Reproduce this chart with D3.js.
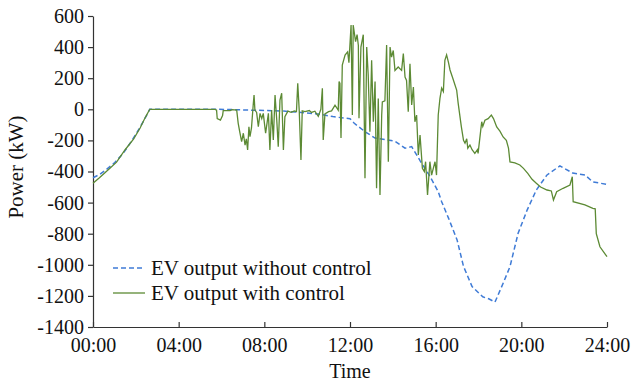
<!DOCTYPE html>
<html>
<head>
<meta charset="utf-8">
<script src="https://cdn.jsdelivr.net/npm/d3@7"></script>
<style>
  html, body { margin: 0; padding: 0; background: #fff; }
  svg text { font-family: "Liberation Serif", "Times New Roman", serif; fill: #111; }
</style>
</head>
<body>
<svg id="chart" width="633" height="385"></svg>
<script>
// ---- data (hours, kW) ----
const xTickValues = [0, 4, 8, 12, 16, 20, 24];
const xTickLabels = ["00:00", "04:00", "08:00", "12:00", "16:00", "20:00", "24:00"];
const yTickValues = [600, 400, 200, 0, -200, -400, -600, -800, -1000, -1200, -1400];
const seriesNames = ["EV output without control", "EV output with control"];

const withoutControl = [
  [0, -440], [0.3, -420], [0.6, -390], [1.0, -345], [1.4, -285], [1.8, -205], [2.2, -115],
  [2.5, -40], [2.65, 0], [5.7, 0], [6.5, -2], [8.9, -11], [10.5, -30], [11.2, -47],
  [11.7, -56], [12.0, -60], [12.2, -90], [12.7, -144], [13.17, -185], [13.63, -195],
  [14.1, -205], [14.57, -250], [14.88, -240], [15.27, -330], [15.73, -430], [16.12, -530],
  [16.28, -594], [16.6, -700], [17.0, -840], [17.3, -1010], [17.7, -1140], [18.2, -1206],
  [18.5, -1220], [18.77, -1240], [19.15, -1119], [19.47, -1012], [19.85, -797], [20.27, -648],
  [20.7, -519], [21.2, -422], [21.8, -364], [22.4, -410], [22.97, -422], [23.34, -467], [24, -483]
];

const withControl = [
  [0, -475], [0.3, -440], [0.7, -390], [1.1, -340], [1.5, -260], [1.9, -190], [2.2, -120],
  [2.45, -50], [2.65, 0], [5.7, 0], [5.77, -5], [5.8, -60], [5.95, -69], [6.05, -40],
  [6.08, -9], [6.4, -9], [6.5, -2], [6.71, -5], [6.78, -90], [6.85, -144], [6.94, -208],
  [7.02, -154], [7.1, -230], [7.16, -190], [7.22, -262], [7.28, -112], [7.33, -176],
  [7.4, -120], [7.48, 28], [7.52, 92], [7.56, -5], [7.64, -20], [7.72, -112], [7.8, -26],
  [7.88, -60], [7.95, -26], [8.06, -154], [8.19, -26], [8.26, -262], [8.34, -5], [8.42, -197],
  [8.5, 92], [8.58, -69], [8.65, -240], [8.73, 60], [8.81, 103], [8.89, -262], [8.96, -47],
  [9.1, -12], [9.25, -20], [9.4, -10], [9.5, -15], [9.56, 167], [9.63, -10], [9.71, -326],
  [9.77, -10], [9.9, -15], [10.1, -8], [10.2, -20], [10.36, -12], [10.52, -45], [10.64, 0],
  [10.71, 135], [10.75, -197], [10.83, -30], [11.0, -15], [11.14, -10], [11.3, 26],
  [11.45, -5], [11.49, 178], [11.53, 167], [11.58, -185], [11.64, 285], [11.77, 349],
  [11.89, 370], [11.95, 300], [12.05, 542], [12.11, -37], [12.15, 542], [12.26, 435],
  [12.33, 480], [12.39, 410], [12.42, -58], [12.51, 400], [12.62, 480], [12.7, -444],
  [12.78, 400], [12.85, 220], [12.93, -144], [13.01, 315], [13.09, -80], [13.17, 178],
  [13.24, -508], [13.32, 70], [13.4, -551], [13.48, -37], [13.51, 48], [13.63, 55],
  [13.71, 413], [13.79, -337], [13.87, 400], [13.94, 336], [14.02, 378], [14.1, 250],
  [14.25, 272], [14.41, 250], [14.49, 358], [14.57, 207], [14.64, 186], [14.72, -15],
  [14.8, 293], [14.88, 28], [14.96, 143], [15.03, -80], [15.11, -37], [15.19, -294],
  [15.27, -165], [15.38, -380], [15.47, -401], [15.53, -337], [15.62, -551], [15.73, -337],
  [15.81, -423], [15.89, -380], [15.97, -337], [16.04, -423], [16.12, -37], [16.2, 70],
  [16.28, 136], [16.36, 114], [16.43, 315], [16.51, 350], [16.6, 300], [16.67, 253],
  [16.8, 200], [16.98, 124], [17.05, 40], [17.2, -113], [17.3, -200], [17.37, -218],
  [17.45, -190], [17.5, -250], [17.6, -230], [17.7, -260], [17.83, -283], [17.95, -260],
  [17.98, -283], [18.05, -200], [18.15, -80], [18.2, -110], [18.3, -70], [18.45, -60],
  [18.6, -37], [18.7, -60], [18.85, -113], [19.0, -140], [19.15, -178], [19.3, -200],
  [19.4, -250], [19.47, -338], [19.7, -345], [19.93, -358], [20.1, -380], [20.3, -412],
  [20.5, -450], [20.7, -476], [20.9, -500], [21.2, -519], [21.4, -525], [21.5, -583],
  [21.65, -530], [21.95, -508], [22.27, -487], [22.38, -434], [22.42, -594], [22.97, -615],
  [23.34, -637], [23.45, -640], [23.5, -800], [23.67, -884], [24.0, -948]
];

// ---- layout ----
const svg = d3.select("#chart");
const x = d3.scaleLinear().domain([0, 24]).range([93, 607]);
const y = d3.scaleLinear().domain([-1400, 600]).range([327, 16]);
const blue = "#3f7bd6";
const green = "#5c8a34";

// axes
const xAxis = d3.axisBottom(x)
  .tickValues(xTickValues)
  .tickFormat((d, i) => xTickLabels[i])
  .tickSizeInner(-5).tickSizeOuter(0).tickPadding(11);
const gx = svg.append("g").attr("transform", `translate(0,${y(-1400)})`).call(xAxis);
gx.selectAll("text").style("font-size", "20px");

const yAxis = d3.axisLeft(y)
  .tickValues(yTickValues)
  .tickFormat(d => String(d))
  .tickSize(5).tickSizeOuter(0).tickPadding(4);
const gy = svg.append("g").attr("transform", `translate(${x(0)},0)`).call(yAxis);
gy.selectAll("text").style("font-size", "20px");

svg.selectAll(".domain, .tick line").attr("stroke", "#333").attr("stroke-width", 1.2);

// lines
const line = d3.line().x(d => x(d[0])).y(d => y(d[1]));
svg.append("path").datum(withoutControl)
  .attr("fill", "none").attr("stroke", blue).attr("stroke-width", 1.5)
  .attr("stroke-dasharray", "5,3").attr("d", line);
svg.append("path").datum(withControl)
  .attr("fill", "none").attr("stroke", green).attr("stroke-width", 1.3)
  .attr("d", line);

// titles
svg.append("text").attr("x", x(12)).attr("y", 378).attr("text-anchor", "middle")
  .style("font-size", "20px").text("Time");
svg.append("text").attr("transform", `translate(23,167) rotate(-90)`)
  .attr("text-anchor", "middle").style("font-size", "21px").text("Power (kW)");

// legend
const legend = svg.append("g");
const legendY = [268, 293];
const legendStyles = [{ c: blue, dash: "5,3", w: 1.5 }, { c: green, dash: null, w: 1.3 }];
seriesNames.forEach((name, i) => {
  legend.append("line").attr("x1", 113).attr("x2", 145)
    .attr("y1", legendY[i]).attr("y2", legendY[i])
    .attr("stroke", legendStyles[i].c).attr("stroke-width", legendStyles[i].w)
    .attr("stroke-dasharray", legendStyles[i].dash);
  legend.append("text").attr("x", 151).attr("y", legendY[i] + 7)
    .style("font-size", "21px").text(name);
});
</script>
</body>
</html>
